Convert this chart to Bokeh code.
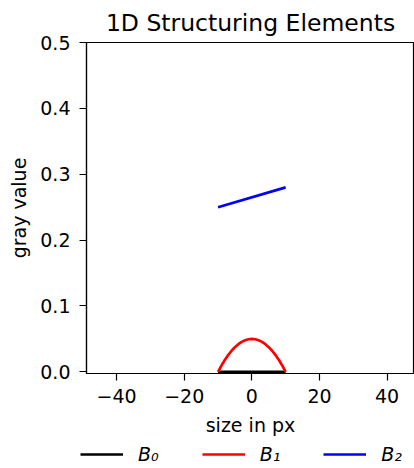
from bokeh.plotting import figure
from bokeh.models import Range1d, Legend, LegendItem, FixedTicker
from bokeh.layouts import column
from bokeh.embed import file_html
from bokeh.resources import INLINE

# Data
b0_x = [-10, -5, 0, 5, 10]
b0_y = [0.0, 0.0, 0.0, 0.0, 0.0]
b1_x = [-10, -9, -8, -7, -6, -5, -4, -3, -2, -1, 0, 1, 2, 3, 4, 5, 6, 7, 8, 9, 10]
b1_y = [0.0, 0.0095, 0.018, 0.0255, 0.032, 0.0375, 0.042, 0.0455, 0.048, 0.0495, 0.05,
        0.0495, 0.048, 0.0455, 0.042, 0.0375, 0.032, 0.0255, 0.018, 0.0095, 0.0]
b2_x = [-10, 10]
b2_y = [0.25, 0.28]
x_ticks = [-40, -20, 0, 20, 40]
x_tick_labels = ["\u221240", "\u221220", "0", "20", "40"]
y_ticks = [0.0, 0.1, 0.2, 0.3, 0.4, 0.5]
y_tick_labels = ["0.0", "0.1", "0.2", "0.3", "0.4", "0.5"]
series_names = ["B\u2080", "B\u2081", "B\u2082"]
colors = ["#000000", "#ff0000", "#0000ff"]

FONT = "DejaVu Sans"
MAIN_H = 438

p = figure(width=414, height=MAIN_H, output_backend="svg", toolbar_location=None,
           x_range=Range1d(-48.9, 48.1), y_range=Range1d(-0.0025, 0.5),
           min_border_left=86, min_border_right=0, min_border_top=42,
           min_border_bottom=MAIN_H - 373,
           title="1D Structuring Elements")
p.frame_align = False

p.title.text_font = FONT
p.title.text_font_size = "23.5px"
p.title.text_font_style = "normal"
p.title.text_color = "black"
p.title.align = "center"
p.title.standoff = 11

p.xgrid.visible = False
p.ygrid.visible = False
p.outline_line_color = "black"
p.outline_line_width = 1.2
p.background_fill_color = "white"
p.border_fill_color = "white"

for ax in (p.xaxis[0], p.yaxis[0]):
    ax.axis_line_width = 1.2
    ax.axis_line_color = "black"
    ax.major_tick_line_width = 1.2
    ax.major_tick_in = 0
    ax.major_tick_out = 7
    ax.minor_tick_line_color = None
    ax.major_label_text_font = FONT
    ax.major_label_text_font_size = "19px"
    ax.major_label_text_color = "black"
    ax.axis_label_text_font = FONT
    ax.axis_label_text_font_size = "19px"
    ax.axis_label_text_font_style = "normal"
    ax.axis_label_text_color = "black"

p.xaxis.ticker = FixedTicker(ticks=x_ticks)
p.xaxis.major_label_overrides = {t: l for t, l in zip(x_ticks, x_tick_labels)}
p.yaxis.ticker = FixedTicker(ticks=y_ticks)
p.yaxis.major_label_overrides = {t: l for t, l in zip(y_ticks, y_tick_labels)}
p.xaxis.axis_label = "size in px"
p.yaxis.axis_label = "gray value"
p.xaxis.major_label_standoff = 8
p.xaxis.axis_label_standoff = 8
p.yaxis.major_label_standoff = 9
p.yaxis.axis_label_standoff = 7

p.line(b0_x, b0_y, line_color=colors[0], line_width=2.7)
p.line(b1_x, b1_y, line_color=colors[1], line_width=2.7)
p.line(b2_x, b2_y, line_color=colors[2], line_width=2.7)

# Legend strip below the plot (its series lie outside its ranges; only the legend shows)
lg = figure(width=414, height=468 - MAIN_H, output_backend="svg", toolbar_location=None,
            x_range=Range1d(1000, 1001), y_range=Range1d(1000, 1001),
            min_border=0, x_axis_location=None, y_axis_location=None)
lg.frame_align = False
lg.xgrid.visible = False
lg.ygrid.visible = False
lg.outline_line_color = None
lg.background_fill_color = "white"
lg.border_fill_color = "white"

series = [(b0_x, b0_y), (b1_x, b1_y), (b2_x, b2_y)]
handles = [lg.line(xs, ys, line_color=c, line_width=2.7) for (xs, ys), c in zip(series, colors)]
legend = Legend(items=[LegendItem(label=n, renderers=[h]) for n, h in zip(series_names, handles)],
                orientation="horizontal", location=(80, 3),
                glyph_width=43, glyph_height=20, label_standoff=15, spacing=43,
                padding=4, margin=0, border_line_color=None,
                background_fill_alpha=0,
                label_text_font=FONT, label_text_font_size="19px",
                label_text_font_style="italic", label_text_color="black")
lg.add_layout(legend, "center")

layout = column(p, lg, spacing=0)
open("out.html", "w").write(file_html(layout, INLINE))
